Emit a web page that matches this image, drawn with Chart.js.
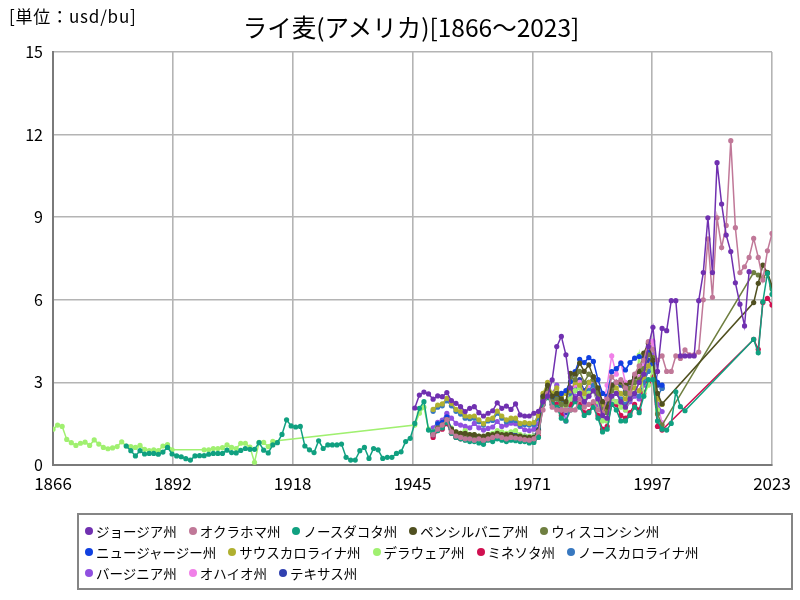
<!DOCTYPE html>
<html><head><meta charset="utf-8">
<script src="https://cdn.jsdelivr.net/npm/chart.js@4.4.1/dist/chart.umd.min.js"></script>
<style>
html,body{margin:0;padding:0;background:#fff;width:800px;height:600px;overflow:hidden;font-family:"Noto Sans CJK JP","Noto Sans",sans-serif;}
#c{position:absolute;left:0;top:0;}
#unit{position:absolute;left:9px;top:5px;font-size:17px;letter-spacing:0.8px;color:#000;line-height:22px;}
#title{position:absolute;left:11px;width:800px;top:11px;text-align:center;font-size:24.5px;color:#000;line-height:32px;}
#legend{position:absolute;left:77px;top:513px;width:716px;height:77px;border:2px solid #858585;box-sizing:border-box;padding:5px 0 0 6px;font-size:13.5px;color:#000;}
.row{display:flex;height:21px;align-items:center;white-space:nowrap;}
.item{display:flex;align-items:center;margin-right:12px;}
.dot{width:8px;height:8px;border-radius:50%;margin-right:3px;}
</style></head>
<body>
<canvas id="c" width="800" height="600"></canvas>
<div id="unit">[単位：usd/bu]</div>
<div id="title">ライ麦(アメリカ)[1866～2023]</div>
<div id="legend"></div>
<script>
// ---- data (values in usd/bu, one value per year from the start year; null = no data) ----
const seriesNames = ['ジョージア州','オクラホマ州','ノースダコタ州','ペンシルバニア州','ウィスコンシン州','ニュージャージー州','サウスカロライナ州','デラウェア州','ミネソタ州','ノースカロライナ州','バージニア州','オハイオ州','テキサス州'];
const seriesColors = ['#7030b0','#c07898','#10a080','#505020','#6f7f40','#1040e0','#b0b030','#a0f070','#d01050','#3878c0','#9050e0','#f080e8','#3040b0'];
const seriesStarts = [1945,1949,1882,1949,1949,1949,1949,1866,1949,1949,1949,1949,1949];
const xTickCount = 6;

const georgia = [2.07,2.54,2.65,2.58,2.39,2.51,2.48,2.63,2.34,2.24,2.12,1.94,2.06,2.12,1.90,1.78,1.88,1.97,2.26,2.06,2.14,2.02,2.22,1.82,1.78,1.78,1.88,
 1.95,2.30,2.50,3.09,4.30,4.67,4.00,2.80,2.40,2.60,2.30,2.50,2.70,2.40,1.80,1.70,2.50,2.60,2.30,2.10,2.40,2.60,3.00,3.30,4.30,5.00,3.40,
 4.96,4.88,5.97,5.97,3.96,3.96,3.96,3.96,5.97,6.99,8.98,6.99,10.98,9.48,8.35,7.75,6.62,5.84,5.05,7.02];
const oklahoma = [1.10,1.30,1.45,1.65,1.20,1.05,1.00,0.95,0.95,0.90,0.95,0.90,0.95,1.00,1.05,1.00,0.95,1.00,0.98,0.95,0.92,0.90,0.95,
 1.20,2.00,2.60,2.10,2.00,2.00,2.00,2.00,2.00,2.40,2.10,2.20,2.30,2.00,1.90,2.40,3.20,3.00,3.10,2.80,2.60,3.30,3.60,3.80,4.48,4.20,3.80,
 3.96,3.40,3.40,3.96,3.87,4.18,4.00,4.00,4.10,6.00,8.21,6.09,8.98,7.90,8.70,11.78,8.62,6.99,7.20,7.54,8.23,7.54,6.72,7.78,8.41];
const northDakota = [0.69,0.52,0.33,0.52,0.40,0.42,0.42,0.39,0.47,0.64,
 0.40,0.33,0.30,0.23,0.18,0.33,0.34,0.34,0.39,0.42,
 0.42,0.42,0.54,0.45,0.44,0.53,0.60,0.57,0.57,0.81,
 0.54,0.44,0.73,0.81,1.11,1.64,1.42,1.38,1.40,0.69,
 0.55,0.45,0.88,0.60,0.73,0.73,0.73,0.76,0.28,0.18,
 0.18,0.52,0.64,0.24,0.60,0.55,0.24,0.28,0.28,0.42,
 0.48,0.85,0.97,
 1.51,2.06,2.30,1.27,1.20,1.25,1.35,1.55,1.15,1.00,0.95,0.90,0.85,0.85,0.80,0.75,0.90,0.85,0.95,0.90,0.85,0.90,0.88,0.85,0.85,0.80,0.82,
 1.00,2.20,2.45,2.20,2.10,1.70,1.60,2.00,2.30,2.10,1.80,1.90,2.10,1.70,1.20,1.30,2.20,2.00,1.60,1.60,1.80,2.10,1.90,2.50,3.10,3.10,1.60,1.30,1.27,1.51,2.66,2.12,1.97,
 null,null,null,null,null,null,null,null,null,null,null,null,null,null,
 4.56,4.08,5.93,6.96,6.20];
const pennsylvania = [1.15,1.30,1.40,1.60,1.30,1.20,1.15,1.15,1.10,1.10,1.05,1.05,1.10,1.10,1.15,1.10,1.10,1.10,1.05,1.05,1.00,1.00,1.00,
 1.25,2.50,2.90,2.50,2.60,2.40,2.30,3.33,3.30,3.70,3.40,3.64,3.20,2.80,2.30,2.10,2.90,3.00,3.03,2.90,3.00,3.20,3.40,4.06,4.42,3.80,2.60,2.22,
 null,null,null,null,null,null,null,null,null,null,null,null,null,null,null,null,null,null,null,
 5.90,6.60,7.26,6.99,6.50];
const wisconsin = [1.10,1.35,1.45,1.65,1.25,1.15,1.10,1.10,1.05,1.05,1.00,1.00,1.05,1.05,1.10,1.05,1.05,1.05,1.00,1.00,0.95,0.95,0.95,
 1.20,2.40,2.80,2.30,2.40,2.20,2.20,3.20,3.10,3.40,3.00,3.30,3.10,2.60,2.00,1.90,2.70,3.00,3.00,2.60,2.80,3.00,3.10,3.50,4.00,3.90,1.85,1.45,
 null,null,null,null,null,null,null,null,null,null,null,null,null,null,null,null,null,null,null,
 6.99,6.90,6.80,6.99,6.40];
const newJersey = [1.10,1.50,1.55,1.75,1.30,1.10,1.05,1.05,1.00,1.00,1.00,0.95,1.00,1.05,1.10,1.05,1.05,1.10,1.05,1.00,1.00,0.95,1.00,
 1.25,2.30,2.60,2.40,2.50,2.60,2.70,3.03,3.39,3.84,3.72,3.90,3.76,3.10,2.60,2.50,3.39,3.50,3.70,3.45,3.72,3.88,3.94,3.90,4.10,3.70,3.00,2.90];
const southCarolina = [2.02,2.18,2.22,2.42,2.24,2.02,1.94,1.78,1.76,1.78,1.64,1.50,1.66,1.70,1.96,1.78,1.64,1.70,1.70,1.51,1.54,1.51,1.54,
 1.80,2.60,3.00,2.60,2.80,2.50,2.60,2.70,3.00,2.90,2.60,3.00,3.20,2.60,2.20,2.00,2.70,2.80,2.60,2.40,2.70,2.80,2.70,3.20,3.60,3.90,2.40,2.20];
const delaware = [1.30,1.45,1.40,0.93,0.81,0.71,0.79,0.83,0.71,0.91,0.76,0.64,0.59,0.62,0.67,0.84,0.69,0.67,0.64,0.71,0.57,0.52,0.55,0.52,0.69,0.74,0.55,
 null,null,null,null,null,null,
 0.55,0.55,0.60,0.60,0.63,0.73,0.64,0.60,0.79,0.79,0.65,0.10,0.82,0.82,0.67,0.86,
 null,null,null,null,null,null,null,null,null,null,null,null,null,null,null,null,null,null,null,null,null,null,null,null,null,null,null,null,null,null,
 1.45,1.88,2.10,1.30,1.20,1.50,1.55,1.70,1.35,1.20,1.15,1.25,1.10,1.10,1.05,1.00,1.10,1.15,1.25,1.20,1.15,1.20,1.25,1.10,1.05,1.05,1.05,
 1.20,2.40,2.80,2.50,2.60,2.20,2.00,2.40,2.70,2.80,2.40,2.60,2.70,2.30,1.60,1.60,2.40,2.30,2.10,2.00,2.40,2.60,3.99,2.50,2.90,3.50,2.00];
const minnesota = [1.00,1.25,1.30,1.50,1.15,1.00,0.95,0.92,0.90,0.90,0.88,0.85,0.95,0.90,1.00,0.95,0.92,0.95,0.92,0.90,0.90,0.85,0.88,
 1.05,2.20,2.50,2.20,2.20,1.80,2.20,2.20,2.40,2.20,1.90,1.94,2.20,1.80,1.30,1.40,2.20,2.20,1.80,1.70,1.90,2.20,2.00,2.60,3.00,3.20,1.40,1.27,
 null,null,null,null,null,null,null,null,null,null,null,null,null,null,null,null,null,null,null,
 4.56,4.20,5.90,6.05,5.81];
const northCarolina = [1.95,2.10,2.15,2.33,2.15,1.95,1.85,1.70,1.68,1.70,1.57,1.45,1.60,1.62,1.88,1.70,1.57,1.62,1.62,1.45,1.47,1.45,1.47,
 1.70,2.50,2.70,2.40,2.40,2.30,2.20,2.60,2.70,2.60,2.30,2.70,2.90,2.50,2.00,1.90,2.50,2.60,2.40,2.20,2.50,2.60,2.50,3.00,3.40,3.60,2.50,2.78];
const virginia = [1.35,1.55,1.63,1.88,1.70,1.51,1.45,1.40,1.35,1.51,1.35,1.27,1.33,1.38,1.58,1.40,1.45,1.52,1.50,1.40,1.28,1.25,1.30,
 1.50,2.40,2.70,2.60,2.90,2.30,1.60,2.20,2.50,2.60,2.20,2.50,2.70,2.20,1.70,1.60,2.40,2.30,2.20,2.00,2.30,2.50,2.40,2.90,3.60,4.00,2.20,1.94];
const ohio = [1.05,1.40,1.50,1.80,1.25,1.05,1.00,1.00,0.95,0.95,0.95,0.90,0.95,1.00,1.05,1.00,1.00,1.05,1.00,0.95,0.95,0.90,0.95,
 1.20,2.30,2.80,2.40,2.60,2.20,2.00,2.70,2.90,3.00,2.50,2.80,3.00,2.40,2.00,2.90,3.96,3.30,3.72,3.00,2.70,3.00,3.20,3.60,4.00,4.50,2.20,1.54];
const texas = [1.15,1.45,1.50,1.70,1.30,1.15,1.10,1.05,1.00,1.05,1.00,1.00,1.05,1.10,1.15,1.10,1.10,1.15,1.10,1.05,1.05,1.00,1.05,
 1.30,2.40,2.70,2.30,2.20,2.00,1.90,2.40,2.80,3.10,2.70,3.00,3.20,2.70,2.30,2.20,2.90,3.00,2.90,2.70,3.00,3.20,3.40,3.60,3.80,3.50,2.90,2.80];

const seriesValues = [georgia,oklahoma,northDakota,pennsylvania,wisconsin,newJersey,southCarolina,delaware,minnesota,northCarolina,virginia,ohio,texas];
const xMin = 1866, xMax = 2023, yMax = 15, yStep = 3;

// ---- chart ----
const datasets = seriesNames.map((name, k) => ({
  label: name,
  data: seriesValues[k].map((v, i) => ({x: seriesStarts[k] + i, y: v})),
  borderColor: seriesColors[k],
  backgroundColor: seriesColors[k],
  borderWidth: 1.5,
  pointRadius: 2.6,
  pointBorderWidth: 0,
  spanGaps: true,
  tension: 0
}));

new Chart(document.getElementById('c'), {
  type: 'line',
  data: {datasets},
  options: {
    responsive: false,
    animation: false,
    layout: {padding: {left: 0, right: 28, top: 52, bottom: 95}},
    plugins: {legend: {display: false}, title: {display: false}, tooltip: {enabled: false}},
    scales: {
      x: {
        type: 'linear', min: xMin, max: xMax,
        afterBuildTicks: s => { s.ticks = Array.from({length: xTickCount + 1}, (_, i) => ({value: xMin + i * (xMax - xMin) / xTickCount})); },
        afterFit: s => { s.height = 40; },
        ticks: {callback: v => String(Math.round(v)), color: '#000', font: {size: 17, family: '"Noto Sans CJK JP"'}, maxRotation: 0, autoSkip: false, padding: 8},
        grid: {color: '#b4b4b4', lineWidth: 1.6, drawTicks: false},
        border: {color: '#7a7a7a', width: 2}
      },
      y: {
        min: 0, max: yMax,
        afterFit: s => { s.width = 53; },
        ticks: {stepSize: yStep, color: '#000', font: {size: 16, family: '"Noto Sans CJK JP"'}, padding: 10},
        grid: {color: '#b4b4b4', lineWidth: 1.6, drawTicks: false},
        border: {color: '#7a7a7a', width: 2}
      }
    }
  }
});

// ---- legend (HTML, 3 rows like the reference) ----
const legendRows = [[0,1,2,3,4],[5,6,7,8,9],[10,11,12]];
const lg = document.getElementById('legend');
legendRows.forEach(r => {
  const row = document.createElement('div'); row.className = 'row';
  r.forEach(k => {
    const it = document.createElement('div'); it.className = 'item';
    const d = document.createElement('span'); d.className = 'dot'; d.style.background = seriesColors[k];
    const t = document.createElement('span'); t.textContent = seriesNames[k];
    it.appendChild(d); it.appendChild(t); row.appendChild(it);
  });
  lg.appendChild(row);
});
</script>
</body></html>
